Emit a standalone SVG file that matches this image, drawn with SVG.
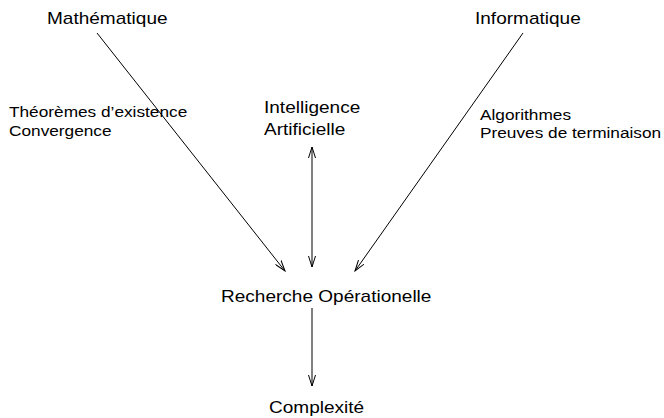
<svg xmlns="http://www.w3.org/2000/svg" width="664" height="418" viewBox="0 0 664 418">
<style>
text{font-family:"Liberation Sans",Arial,sans-serif;font-size:17px;fill:#000}
text.s{font-size:15.4px}
.c{stroke:#000;stroke-width:1;fill:none}
</style>
<defs>
<marker id="ah" viewBox="0 0 12 8" refX="11" refY="4" markerWidth="12" markerHeight="8" markerUnits="userSpaceOnUse" orient="auto-start-reverse">
<path d="M0,0.5 L11,4 L0,7.5" fill="none" stroke="#000" stroke-width="1"/>
</marker>
</defs>
<rect width="664" height="418" fill="#fff"/>
<g id="connectors">
<line class="c" x1="97" y1="33" x2="285" y2="271" marker-end="url(#ah)"/>
<line class="c" x1="523" y1="33" x2="355" y2="271" marker-end="url(#ah)"/>
<line class="c" x1="312" y1="147" x2="312" y2="267" marker-start="url(#ah)" marker-end="url(#ah)"/>
<line class="c" x1="312" y1="308" x2="312" y2="386" marker-end="url(#ah)"/>
</g>
<g id="mathematique"><text transform="translate(47,24) scale(1.12,1)">Mathématique</text></g>
<g id="informatique"><text transform="translate(475,24) scale(1.12,1)">Informatique</text></g>
<g id="label-math"><text class="s" transform="translate(9,117) scale(1.12,1)">Théorèmes d’existence</text><text class="s" transform="translate(9,136) scale(1.12,1)">Convergence</text></g>
<g id="ia"><text transform="translate(264,113) scale(1.12,1)">Intelligence</text><text transform="translate(264,135) scale(1.12,1)">Artificielle</text></g>
<g id="label-info"><text class="s" transform="translate(480,120) scale(1.12,1)">Algorithmes</text><text class="s" transform="translate(480,138) scale(1.12,1)">Preuves de terminaison</text></g>
<g id="ro"><text transform="translate(221,302) scale(1.12,1)">Recherche Opérationelle</text></g>
<g id="complexite"><text transform="translate(269,413) scale(1.12,1)">Complexité</text></g>
</svg>
